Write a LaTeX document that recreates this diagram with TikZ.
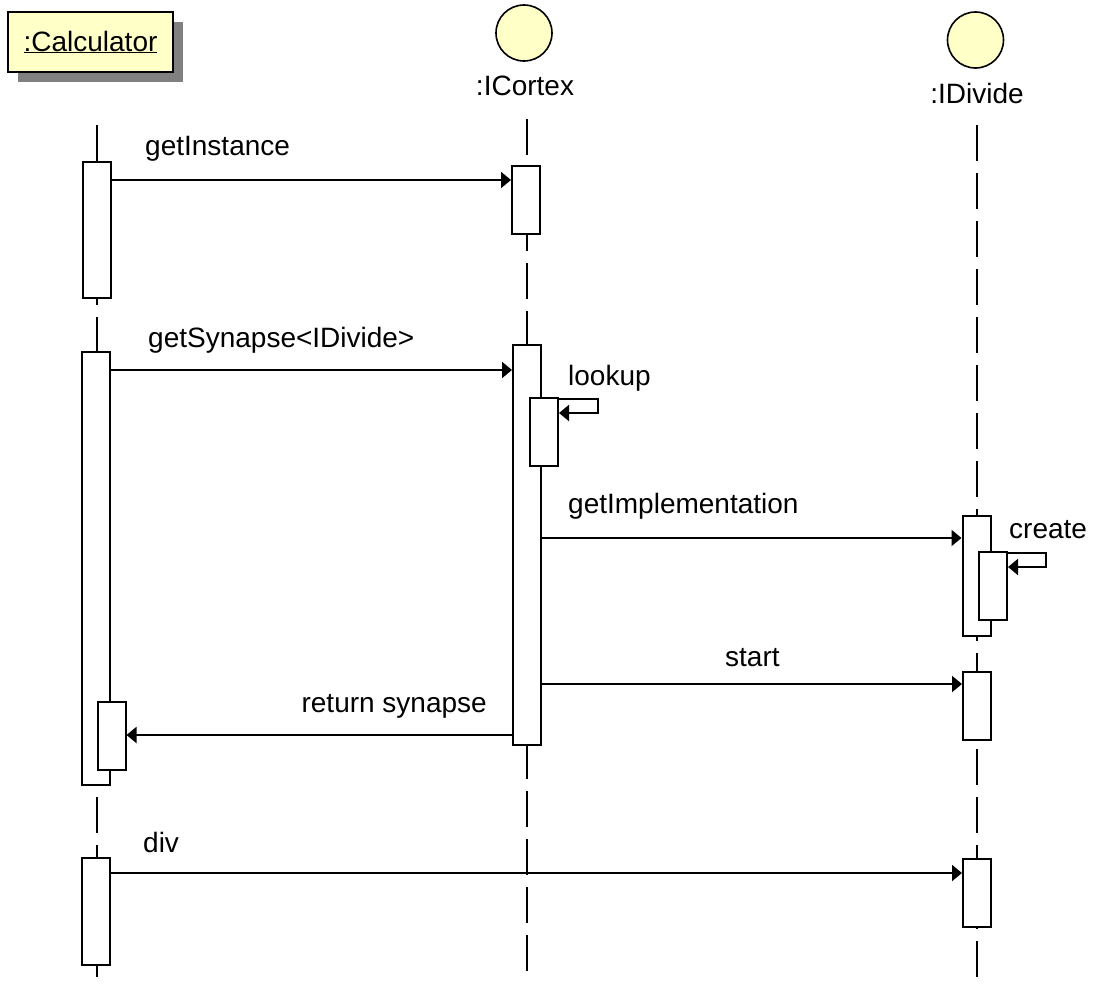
\documentclass[tikz,border=0pt]{standalone}
\usepackage{fontspec}
\setmainfont{Liberation Sans}
\usetikzlibrary{arrows.meta,shadows}
\definecolor{objfill}{RGB}{255,255,200}
\definecolor{shadowgray}{RGB}{128,128,128}
\begin{document}
\begin{tikzpicture}[x=1pt,y=-1pt,
  every node/.style={font=\fontsize{28}{34}\selectfont},
  lbl/.style={anchor=base west,inner sep=0pt},
  actbox/.style={draw,fill=white,line width=2pt,minimum width=28pt,inner sep=0pt},
  lifeline/.style={line width=2pt,dash pattern=on 36pt off 12pt},
  msg/.style={line width=2pt,-{Triangle[length=10pt,width=16pt]}},
  headcirc/.style={circle,draw,line width=1.6pt,fill=objfill,minimum size=56pt,inner sep=0pt}]
\useasboundingbox (0,0) rectangle (1098,985);

% object heads
\node[draw,line width=2pt,fill=objfill,minimum width=165pt,minimum height=60pt,inner sep=0pt,
      drop shadow={shadow xshift=10pt,shadow yshift=-10pt,fill=shadowgray,opacity=1}]
      (calc) at (90.5,42) {\underline{:Calculator}};
\node[headcirc] (cortexHead) at (524,33) {};
\node[anchor=base,inner sep=0pt] (cortexName) at (525,95) {:ICortex};
\node[headcirc] (divideHead) at (975.5,40) {};
\node[anchor=base,inner sep=0pt] (divideName) at (977,103) {:IDivide};

% lifelines
\coordinate (calcTop) at (97,125);   \coordinate (calcEnd) at (97,978);
\coordinate (cortexTop) at (527,119); \coordinate (cortexEnd) at (527,973);
\coordinate (divideTop) at (977,125); \coordinate (divideEnd) at (977,978);
\draw[lifeline] (calcTop) -- (calcEnd);
\draw[lifeline] (cortexTop) -- (cortexEnd);
\draw[lifeline] (divideTop) -- (divideEnd);

% activation boxes
\node[actbox,minimum height=136pt] (c1) at (97,230) {};
\node[actbox,minimum height=433pt] (c2) at (96,568.5) {};
\node[actbox,minimum height=68pt]  (c3) at (111.5,736) {};
\node[actbox,minimum height=107pt] (c4) at (96,911.5) {};
\node[actbox,minimum height=68pt]  (i1) at (526,200) {};
\node[actbox,minimum height=400pt] (i2) at (527,545) {};
\node[actbox,minimum height=68pt]  (i3) at (544,432) {};
\node[actbox,minimum height=120pt] (d1) at (976.5,576) {};
\node[actbox,minimum height=68pt]  (d2) at (993,586) {};
\node[actbox,minimum height=68pt]  (d3) at (977,706) {};
\node[actbox,minimum height=68pt]  (d4) at (977,893) {};

% message rows
\coordinate (r1) at (0,180);
\coordinate (r2) at (0,370);
\coordinate (r3) at (0,538);
\coordinate (r4) at (0,684);
\coordinate (r5) at (0,735);
\coordinate (r6) at (0,873);

% messages
\draw[msg] (c1.east |- r1) -- (i1.west |- r1);
\draw[msg] (c2.east |- r2) -- (i2.west |- r2);
\draw[msg] ([yshift=-2pt]i3.north east) -- ++(39,0) -- ++(0,14) -- ([yshift=-16pt]i3.north east);
\draw[msg] (i2.east |- r3) -- (d1.west |- r3);
\draw[msg] ([yshift=-2pt]d2.north east) -- ++(38,0) -- ++(0,14) -- ([yshift=-16pt]d2.north east);
\draw[msg] (i2.east |- r4) -- (d3.west |- r4);
\draw[msg] (i2.west |- r5) -- (c3.east |- r5);
\draw[msg] (c4.east |- r6) -- (d4.west |- r6);

% message labels
\node[lbl] (lGetInstance) at (145,155) {getInstance};
\node[lbl] (lGetSynapse) at (148,347) {getSynapse<IDivide>};
\node[lbl] (lLookup) at (568,385) {lookup};
\node[lbl] (lGetImpl) at (568,513) {getImplementation};
\node[lbl] (lCreate) at (1009,538) {create};
\node[lbl] (lStart) at (725,666) {start};
\node[anchor=base east,inner sep=0pt] (lReturn) at (487,712) {return synapse};
\node[lbl] (lDiv) at (143,852) {div};
\end{tikzpicture}
\end{document}
